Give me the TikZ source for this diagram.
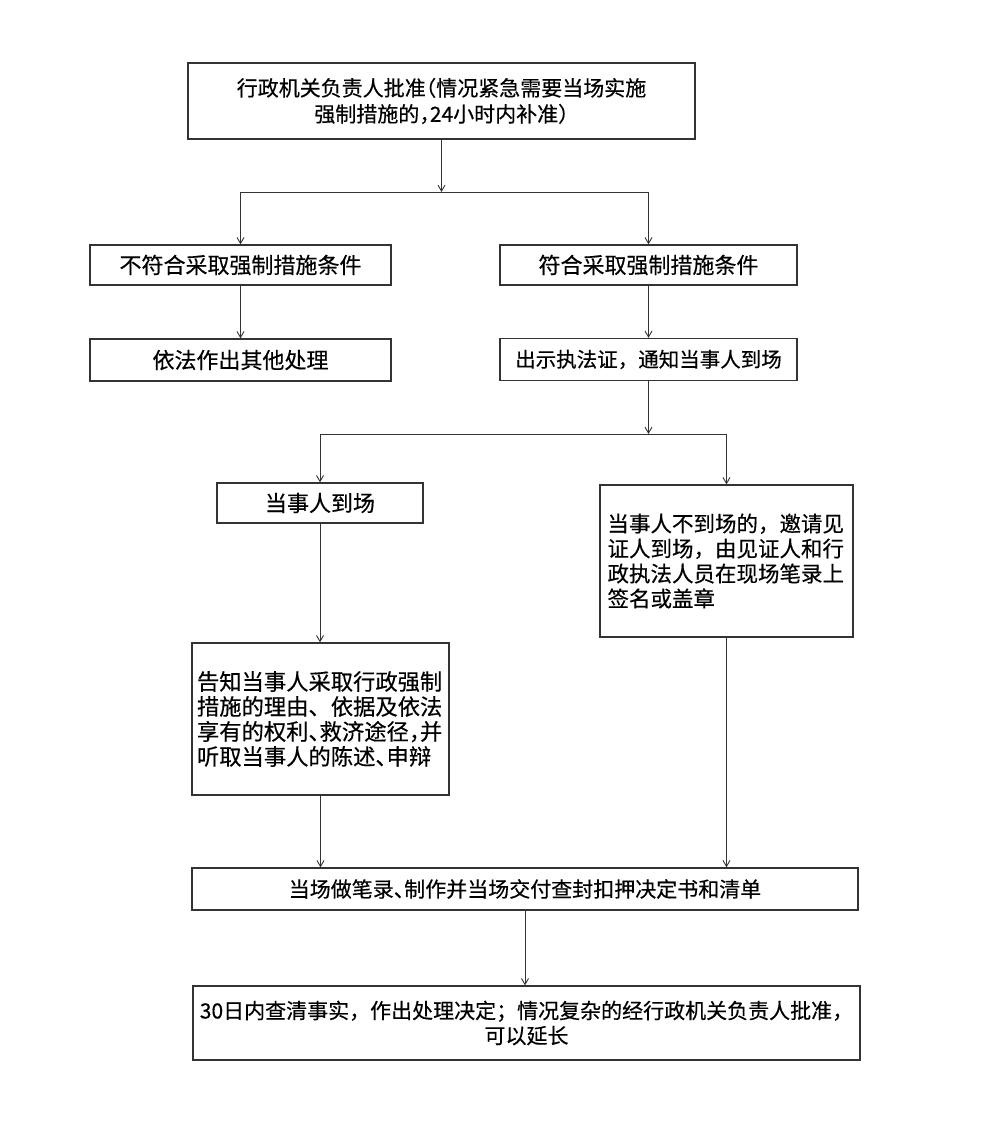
\documentclass[tikz,border=0pt]{standalone}
\usepackage{fontspec}
\setmainfont{Noto Sans CJK SC}[FakeBold=0.4]
\usetikzlibrary{arrows.meta}
\newcommand\halfp[1]{\makebox[0.5em][l]{#1}}
\newcommand\halfo[1]{\makebox[0.5em][r]{#1}}
\begin{document}
\begin{tikzpicture}[x=1pt,y=-1pt,
  box/.style={draw=black!80, line width=1.3pt, inner sep=0pt, align=center, anchor=center},
  arr/.style={draw=black!80, line width=0.9pt, -{Straight Barb[length=6pt,width=7pt]}},
  ln/.style={draw=black!80, line width=0.9pt}]
\fill[white] (0,0) rectangle (991,1134);
\path[use as bounding box] (0,0) rectangle (991,1134);

\node[box, minimum width=507pt, minimum height=76pt, font=\fontsize{21}{26}\selectfont] (b1) at (441.5,101)
  {行政机关负责人批准\halfo{（}情况紧急需要当场实施\\强制措施的\halfp{，}24小时内补准\halfp{）}};
\node[box, minimum width=301pt, minimum height=40pt, font=\fontsize{22}{25}\selectfont] (b2) at (240.5,265) {不符合采取强制措施条件};
\node[box, minimum width=297pt, minimum height=40pt, font=\fontsize{22}{25}\selectfont] (b3) at (648.5,265) {符合采取强制措施条件};
\node[box, minimum width=301pt, minimum height=42pt, font=\fontsize{22}{25}\selectfont] (b4) at (240.5,360) {依法作出其他处理};
\node[box, minimum width=297pt, minimum height=42pt, font=\fontsize{20.5}{25}\selectfont] (b5) at (648.5,359.5) {出示执法证，通知当事人到场};
\node[box, minimum width=206pt, minimum height=40pt, font=\fontsize{22}{25}\selectfont] (b6) at (320,503) {当事人到场};
\node[box, minimum width=253pt, minimum height=152pt, text width=238pt, align=left, font=\fontsize{21.5}{25}\selectfont] (b7) at (726.5,561)
  {当事人不到场的，邀请见\\证人到场，由见证人和行\\政执法人员在现场笔录上\\签名或盖章};
\node[box, minimum width=257pt, minimum height=152pt, text width=247pt, align=left, font=\fontsize{22.3}{25}\selectfont] (b8) at (320.5,719)
  {告知当事人采取行政强制\\措施的理由、依据及依法\\享有的权利\halfp{、}救济途径\halfp{，}并\\听取当事人的陈述\halfp{、}申辩};
\node[box, minimum width=666pt, minimum height=42pt, font=\fontsize{21}{25}\selectfont] (b9) at (525,889)
  {当场做笔录\halfp{、}制作并当场交付查封扣押决定书和清单};
\node[box, minimum width=667pt, minimum height=74pt, font=\fontsize{21}{25}\selectfont] (b10) at (526.5,1023)
  {30日内查清事实，作出处理决定；情况复杂的经行政机关负责人批准，\\可以延长};

\coordinate (j1L) at (240.5,192);
\coordinate (j1R) at (648.5,192);
\coordinate (j2L) at (320,434);
\coordinate (j2R) at (726.5,434);

\draw[arr] (b1.south) -- (b1.south |- j1L);
\draw[ln] (j1L) -- (j1R);
\draw[arr] (j1L) -- (b2.north);
\draw[arr] (j1R) -- (b3.north);
\draw[arr] (b2) -- (b4);
\draw[arr] (b3) -- (b5);
\draw[arr] (b5.south) -- (b5.south |- j2L);
\draw[ln] (j2L) -- (j2R);
\draw[arr] (j2L) -- (b6.north);
\draw[arr] (j2R) -- (b7.north);
\draw[arr] (b6.south) -- (b6.south |- b8.north);
\draw[arr] (b8.south) -- (b8.south |- b9.north);
\draw[arr] (b7.south) -- (b7.south |- b9.north);
\draw[arr] (b9.south) -- (b9.south |- b10.north);
\end{tikzpicture}
\end{document}
